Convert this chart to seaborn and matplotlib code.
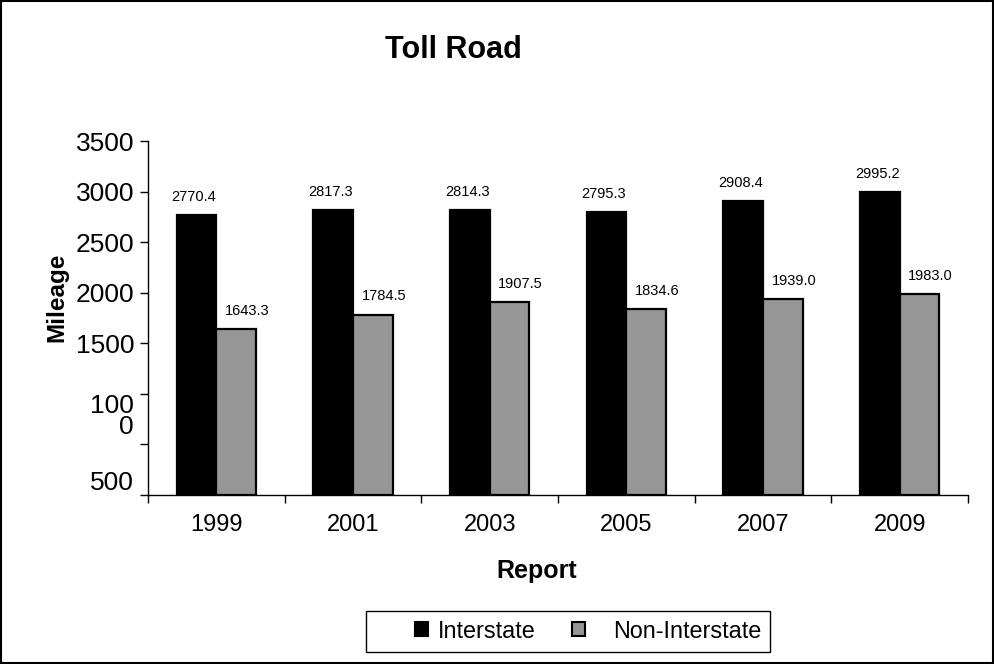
import matplotlib
matplotlib.use("Agg")
import matplotlib.pyplot as plt
import seaborn as sns
import pandas as pd
from matplotlib.patches import Patch, Rectangle

years = ["1999", "2001", "2003", "2005", "2007", "2009"]
interstate = [2770.4, 2817.3, 2814.3, 2795.3, 2908.4, 2995.2]
non_interstate = [1643.3, 1784.5, 1907.5, 1834.6, 1939.0, 1983.0]
series_names = ["Interstate", "Non-Interstate"]
series_colors = ["#000000", "#969696"]
y_ticks = [0, 500, 1000, 1500, 2000, 2500, 3000, 3500]
y_tick_labels = ["500", "", "100\n0", "1500", "2000", "2500", "3000", "3500"]

df = pd.DataFrame({
    "Report": years * 2,
    "Mileage": interstate + non_interstate,
    "Series": [series_names[0]] * len(years) + [series_names[1]] * len(years),
})

sns.set_theme(style="white")
plt.rcParams["font.family"] = ["Liberation Sans", "DejaVu Sans"]
for k in ["text.color", "axes.labelcolor", "xtick.color", "ytick.color", "axes.edgecolor"]:
    plt.rcParams[k] = "black"

fig = plt.figure(figsize=(9.95, 6.64), dpi=100)
ax = fig.add_axes([148 / 995, 1 - 495 / 664, (968 - 148) / 995, (495 - 141) / 664])

sns.barplot(data=df, x="Report", y="Mileage", hue="Series", order=years,
            hue_order=series_names, palette=series_colors, width=0.58,
            edgecolor="black", linewidth=1.6, ax=ax, legend=False, saturation=1)

ax.set_ylim(0, 3500)
ax.set_xlim(-0.5, len(years) - 0.5)

# value labels
for cont, vals, dx in zip(ax.containers, [interstate, non_interstate], [-2, 8]):
    for bar, v in zip(cont, vals):
        ax.annotate(f"{v:.1f}", (bar.get_x() + bar.get_width() / 2, bar.get_height()),
                    xytext=(dx, 8), textcoords="offset points", ha="center",
                    va="bottom", fontsize=10.5, color="black")

# spines
for s in ["top", "right"]:
    ax.spines[s].set_visible(False)
for s in ["left", "bottom"]:
    ax.spines[s].set_color("black")
    ax.spines[s].set_linewidth(1.0)

# y ticks
ax.set_yticks(y_ticks)
ax.set_yticklabels(y_tick_labels)
ax.tick_params(axis="y", direction="out", length=6, width=1, color="black",
               labelsize=19, pad=4, left=True, labelcolor="black")
for lab, t in zip(ax.get_yticklabels(), y_ticks):
    lab.set_linespacing(0.85)
    if t == 1000:
        lab.set_verticalalignment("top")
    elif t == 0:
        lab.set_verticalalignment("bottom")

# x ticks at category boundaries
ax.set_xticks(range(len(years)))
ax.set_xticklabels(years)
ax.set_xticks([i - 0.5 for i in range(len(years) + 1)], minor=True)
ax.tick_params(axis="x", which="major", length=0, labelsize=17, pad=14,
               labelcolor="black")
ax.tick_params(axis="x", which="minor", direction="out", length=6, width=1,
               color="black", bottom=True)

ax.set_xlabel("")
ax.set_ylabel("")
fig.text(537 / 995, 1 - 571 / 664, "Report", fontsize=18, fontweight="bold",
         ha="center", va="center", color="black")
fig.text(57 / 995, 1 - 297 / 664, "Mileage", rotation=90, fontsize=17.5,
         fontweight="bold", ha="center", va="center", color="black")
fig.text(453 / 995, 1 - 50 / 664, "Toll Road", fontsize=22, fontweight="bold",
         ha="center", va="center", color="black")

# legend: two entries placed like the reference
leg_x = [415 / 995, 572 / 995]
leg_pad = [0.43, 1.2]
for name, col, lx, pad in zip(series_names, series_colors, leg_x, leg_pad):
    h = Patch(facecolor=col, edgecolor="black", linewidth=1.5)
    leg = fig.legend([h], [name], loc="center left",
                     bbox_to_anchor=(lx, 1 - 631 / 664), fontsize=16.8,
                     frameon=False, handlelength=0.56, handleheight=0.56,
                     handletextpad=pad, borderpad=0, borderaxespad=0)
    for t in leg.get_texts():
        t.set_color("black")

# legend frame box
fig.patches.append(Rectangle((366 / 995, 1 - 652 / 664), (770 - 366) / 995, 41 / 664,
                             transform=fig.transFigure, fill=False,
                             edgecolor="black", linewidth=1.0))
# figure border
fig.patches.append(Rectangle((0.001, 0.001), 0.997, 0.997, transform=fig.transFigure,
                             fill=False, edgecolor="black", linewidth=1.5))

fig.savefig("out.png", dpi=100)
